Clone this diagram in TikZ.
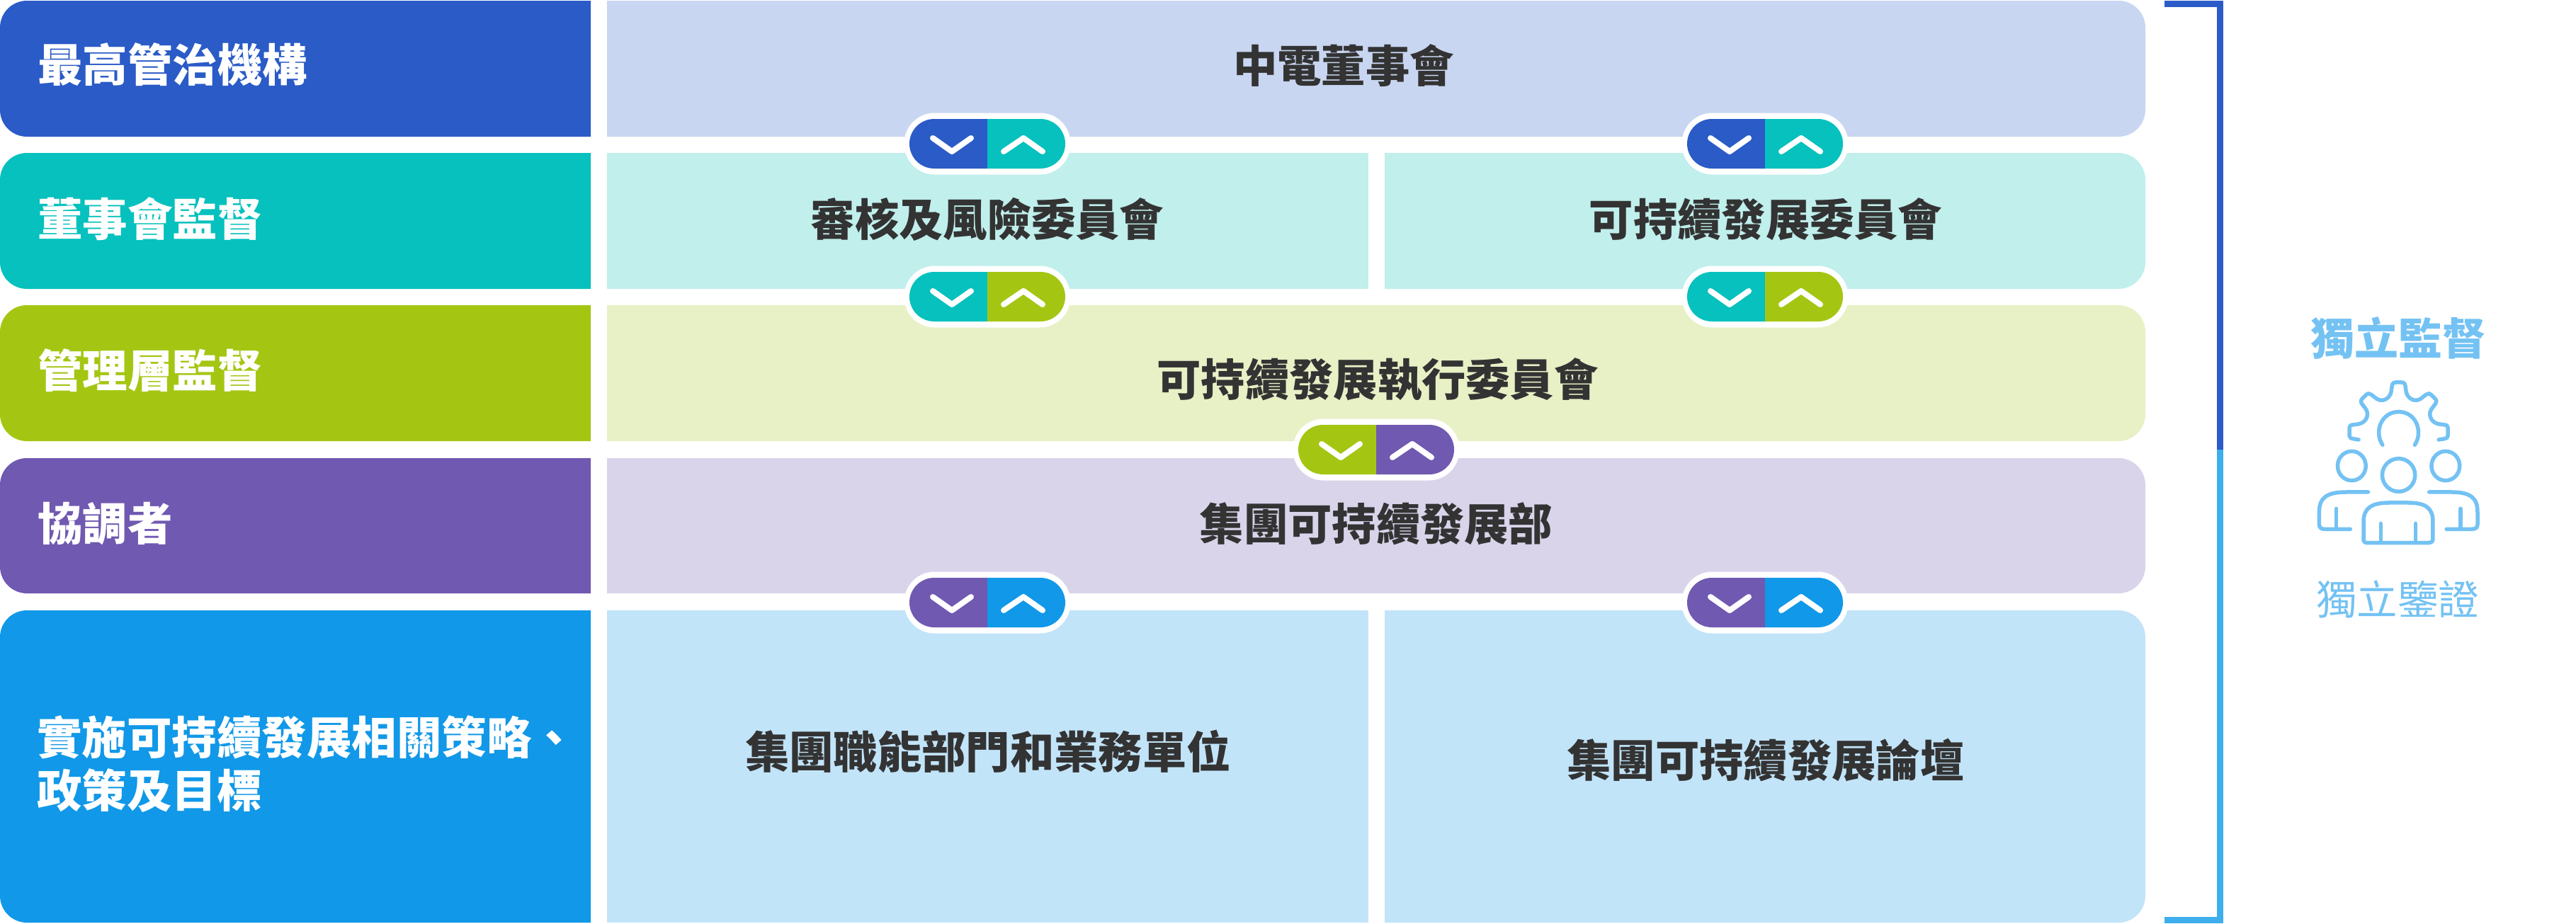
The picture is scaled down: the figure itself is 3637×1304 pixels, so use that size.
\documentclass[tikz,border=0pt]{standalone}
\usepackage{fontspec}
\setmainfont{Noto Sans CJK TC}
\definecolor{cA}{HTML}{2A5BC7}
\definecolor{cB}{HTML}{06C1BD}
\definecolor{cC}{HTML}{A4C613}
\definecolor{cD}{HTML}{7059B1}
\definecolor{cE}{HTML}{1198E8}
\definecolor{lA}{HTML}{C8D6F1}
\definecolor{lB}{HTML}{C0EFEC}
\definecolor{lC}{HTML}{E8F1C6}
\definecolor{lD}{HTML}{DAD4EB}
\definecolor{lE}{HTML}{C2E4F9}
\definecolor{brk}{HTML}{3EAEEC}
\definecolor{ico}{HTML}{74C2F3}
\definecolor{ink}{HTML}{333333}
\tikzset{
  lefttext/.style={anchor=base west,text=white,inner sep=0pt,align=left,font=\fontsize{63.5}{75}\selectfont\bfseries},
  boxtext/.style={anchor=base,text=ink,inner sep=0pt,font=\fontsize{62.3}{75}\selectfont\bfseries},
  chev/.style={draw=white,line width=8pt,line cap=round,line join=round},
  icon/.style={draw=ico,line width=5.5pt,line cap=round,line join=round},
}
\newcommand{\leftbox}[3]{\fill[#3] (834,#1) -- (38,#1) arc[start angle=-90,end angle=-180,radius=38] -- (0,#2-38) arc[start angle=-180,end angle=-270,radius=38] -- (834,#2) -- cycle;}
\newcommand{\rightbox}[4]{\fill[#4] (#1,#2) -- (3029-38,#2) arc[start angle=-90,end angle=0,radius=38] -- (3029,#3-38) arc[start angle=0,end angle=90,radius=38] -- (#1,#3) -- cycle;}
\newcommand{\pill}[5]{%
  \node[fill=white,rounded corners=43pt,minimum width=235pt,minimum height=87pt,inner sep=0pt] (#5) at (#1,#2) {};
  \fill[#3] (#1,#2-35) -- (#1-75,#2-35) arc[start angle=-90,end angle=-270,radius=35] -- (#1,#2+35) -- cycle;
  \fill[#4] (#1,#2-35) -- (#1+75,#2-35) arc[start angle=-90,end angle=90,radius=35] -- (#1,#2+35) -- cycle;
  \draw[chev] (#1-77,#2-8) -- (#1-50,#2+11) -- (#1-23,#2-8);
  \draw[chev] (#1+23,#2+11) -- (#1+51,#2-8) -- (#1+78,#2+11);
}
\begin{document}
\begin{tikzpicture}[x=1pt,y=-1pt]
\useasboundingbox (0,0) rectangle (3637,1304);
\leftbox{1}{193}{cA}
\leftbox{216}{408}{cB}
\leftbox{431}{623}{cC}
\leftbox{647}{838}{cD}
\leftbox{862}{1303}{cE}
\rightbox{857}{1}{193}{lA}
\fill[lB] (857,216) rectangle (1932,408);
\rightbox{1955}{216}{408}{lB}
\rightbox{857}{431}{623}{lC}
\rightbox{857}{647}{838}{lD}
\fill[lE] (857,862) rectangle (1932,1303);
\rightbox{1955}{862}{1303}{lE}
% bracket
\coordinate (bt) at (3056,5);
\coordinate (bc) at (3134.5,635);
\coordinate (bb) at (3056,1299);
\draw[cA,line width=9pt] (bt) -- (3134.5,5) -- (bc);
\draw[brk,line width=9pt] (bc) -- (3134.5,1299) -- (bb);
% left labels
\node[lefttext] (l1) at (53,115) {最高管治機構};
\node[lefttext] (l2) at (53,333) {董事會監督};
\node[lefttext] (l3) at (53,547) {管理層監督};
\node[lefttext] (l4) at (53,763) {協調者};
\node[lefttext] (l5) at (52,1140) {實施可持續發展相關策略、\\政策及目標};
% box labels
\node[boxtext] (b1) at (1897,116) {中電董事會};
\node[boxtext] (b2) at (1394,333) {審核及風險委員會};
\node[boxtext] (b3) at (2493,333) {可持續發展委員會};
\node[boxtext] (b4) at (1945,559) {可持續發展執行委員會};
\node[boxtext] (b5) at (1943,763) {集團可持續發展部};
\node[boxtext] (b6) at (1395,1085) {集團職能部門和業務單位};
\node[boxtext] (b7) at (2493,1097) {集團可持續發展論壇};
% pills
\pill{1394}{203}{cA}{cB}{p1}
\pill{2492}{203}{cA}{cB}{p2}
\pill{1394}{419}{cB}{cC}{p3}
\pill{2492}{419}{cB}{cC}{p4}
\pill{1943}{635}{cC}{cD}{p5}
\pill{1394}{851}{cD}{cE}{p6}
\pill{2492}{851}{cD}{cE}{p7}
% right
\node[anchor=base,inner sep=0pt,text=ico,font=\fontsize{62}{70}\selectfont\bfseries] (t1) at (3386,501) {獨立監督};
\node[anchor=base,inner sep=0pt,text=ico,font=\fontsize{57.5}{70}\selectfont] (t2) at (3385,868) {獨立鑒證};
\begin{scope}[shift={(3000,400)},x=0.4065pt,y=-0.3333pt]
\draw[icon] (812,663) -- (792,659) .. controls (783,657) and (780,652) .. (780,645) -- (780,612) .. controls (780,604) and (784,601) .. (792,600) -- (810,597) .. controls (835,592) and (848,565) .. (840,540) .. controls (835,525) and (820,512) .. (820,500) .. controls (820,492) and (828,485) .. (838,473) .. controls (844,466) and (850,466) .. (856,472) -- (875,490) .. controls (895,505) and (920,490) .. (925,460) -- (928,435) .. controls (929,424) and (934,420) .. (942,420) -- (960,420) .. controls (968,420) and (973,424) .. (974,435) -- (977,460) .. controls (982,490) and (1007,505) .. (1027,490) -- (1046,472) .. controls (1052,466) and (1058,466) .. (1064,473) .. controls (1074,485) and (1082,492) .. (1082,500) .. controls (1082,512) and (1067,525) .. (1062,540) .. controls (1054,565) and (1067,592) .. (1092,597) -- (1110,600) .. controls (1118,601) and (1122,604) .. (1122,612) -- (1122,645) .. controls (1122,652) and (1119,657) .. (1110,659) -- (1090,663);
\draw[icon] (895,685) .. controls (865,630) and (890,545) .. (951,545) .. controls (1012,545) and (1037,630) .. (1007,685);
\draw[icon] (951,813) circle[x radius=57,y radius=70];
\draw[icon] (788,774) circle[x radius=49,y radius=62];
\draw[icon] (1114,774) circle[x radius=49,y radius=62];
\draw[icon] (829,1090) -- (829,1010) .. controls (829,950) and (860,930) .. (920,930) -- (982,930) .. controls (1042,930) and (1070,950) .. (1070,1010) -- (1070,1085) .. controls (1070,1096) and (1062,1100) .. (1055,1100) -- (845,1100) .. controls (836,1100) and (829,1098) .. (829,1090) -- cycle;
\draw[icon] (889,1018) -- (889,1100);
\draw[icon] (1010,1018) -- (1010,1100);
\draw[icon] (845,885) -- (770,885) .. controls (700,885) and (675,910) .. (675,970) -- (675,1022) .. controls (675,1036) and (682,1042) .. (695,1042) -- (783,1042);
\draw[icon] (734,955) -- (734,1042);
\draw[icon] (1057,885) -- (1132,885) .. controls (1202,885) and (1225,910) .. (1225,970) -- (1225,1022) .. controls (1225,1036) and (1218,1042) .. (1205,1042) -- (1117,1042);
\draw[icon] (1166,955) -- (1166,1042);
\end{scope}
\end{tikzpicture}
\end{document}
